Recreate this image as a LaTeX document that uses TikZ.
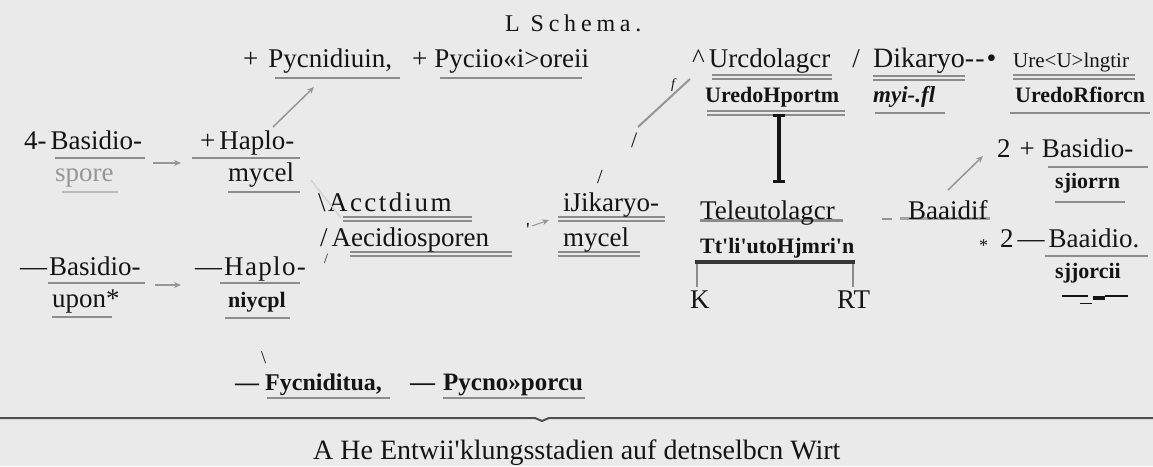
\documentclass[tikz,border=0pt]{standalone}
\usepackage{fontspec}
\setmainfont{Liberation Serif}
\usetikzlibrary{arrows.meta}
\definecolor{bg}{RGB}{234,234,234}
\definecolor{ink}{RGB}{20,20,20}
\definecolor{ulc}{RGB}{140,140,140}
\definecolor{arrc}{RGB}{150,150,150}
\definecolor{faint}{RGB}{150,150,150}
\newcommand\fsz[1]{\fontsize{#1}{#1}\selectfont}
\newcommand\q{\textquotesingle}
\tikzset{
  txt/.style={anchor=base west, inner sep=0pt, text=ink, font=\fsz{27}},
  bd/.style={txt, font=\fsz{22}\bfseries},
  ul/.style={draw=ulc, line width=2pt},
  uld/.style={draw=ulc, line width=1.3pt},
  garr/.style={draw=arrc, line width=1.5pt, -{Stealth[length=7pt,width=6pt]}},
  gline/.style={draw=arrc, line width=1.5pt},
}
\begin{document}
\begin{tikzpicture}[x=1pt,y=-1pt]
\fill[bg] (0,0) rectangle (1153,466);
\useasboundingbox (0,0) rectangle (1153,466);

% underlines (behind the texts)
\draw[ul] (275,78) -- (400,78);
\draw[ul] (440,78) -- (582,78);
\draw[uld] (712,75) -- (832,75); \draw[uld] (712,79) -- (832,79);
\draw[ul] (873,76) -- (965,76); \draw[uld] (873,80) -- (965,80);
\draw[uld] (1013,75) -- (1135,75); \draw[uld] (1013,79) -- (1135,79);
\draw[uld] (707,111) -- (845,111); \draw[uld] (707,115) -- (845,115);
\draw[ul] (875,113) -- (945,113);
\draw[ul] (1010,113) -- (1150,113);
\draw[ul] (55,158) -- (145,158);
\draw[ul, draw=ulc!60] (62,192) -- (118,192);
\draw[ul] (192,158) -- (300,158);
\draw[ul] (228,192) -- (300,192);
\draw[uld] (343,217) -- (472,217); \draw[uld] (343,221) -- (472,221);
\draw[uld] (350,252) -- (512,252); \draw[uld] (350,256) -- (512,256);
\draw[uld] (558,217) -- (665,217); \draw[uld] (558,221) -- (665,221);
\draw[uld] (558,252) -- (640,252); \draw[uld] (558,256) -- (640,256);
\draw[ul, line width=3pt] (700,220) -- (843,220);
\draw[ul, line width=3pt, draw=ulc!80] (900,218) -- (990,218);
\draw[ul] (1048,167) -- (1148,167);
\draw[ul] (1055,202) -- (1125,202);
\draw[ul] (1045,256) -- (1148,256);
\draw[ul] (48,283) -- (145,283);
\draw[ul] (52,317) -- (112,317);
\draw[ul] (220,283) -- (300,283);
\draw[ul] (225,318) -- (290,318);
\draw[ul] (267,398) -- (390,398);
\draw[ul] (443,398) -- (585,398);

% title
\node[txt, font=\fsz{24}\addfontfeature{LetterSpace=20}] (title) at (505,31) {L Schema.};

% top row
\node[txt] (pyc1) at (243,67) {+\hspace{10pt}Pycnidiuin,};
\node[txt] (pyc2) at (412,67) {+\hspace{7pt}Pyciio«i>oreii};
\node[txt] (ure1) at (692,67) {\textasciicircum\hspace{4pt}Urcdolagcr\hspace{22pt}/};
\node[txt, font=\fsz{28}] (dik1) at (873,67) {Dikaryo-\hspace{1pt}-\hspace{2pt}•};
\node[txt, font=\fsz{21}] (ure2) at (1013,67) {Ure<U>lngtir};
\node[bd] (ure3) at (705,102) {UredoHportm};
\node[bd, font=\fsz{23}\bfseries\itshape] (myi) at (873,102) {myi-.fl};
\node[bd] (ure4) at (1015,102) {UredoRfiorcn};
\node[txt, font=\fsz{14}\itshape] (fmark) at (671,88) {f};

% left column
\node[txt] (bas1) at (24,149) {4-\hspace{4pt}Basidio-};
\node[txt, text=faint] (spore) at (55,181) {spore};
\node[txt] (hap1) at (200,149) {+\hspace{4pt}Haplo-};
\node[txt] (myc1) at (228,181) {mycel};
\node[txt] (bas2) at (20,275) {—\hspace{2pt}Basidio-};
\node[txt] (upon) at (52,307) {upon*};
\node[txt, font=\fsz{27}\addfontfeature{LetterSpace=5}] (hap2) at (195,275) {—\hspace{2pt}Haplo-};
\node[bd] (niy) at (228,307) {niycpl};

% middle
\node[txt, font=\fsz{27}\addfontfeature{LetterSpace=9}] (acc) at (318,211) {\textbackslash Acctdium};
\node[txt] (aec) at (320,246) {/\hspace{4pt}Aecidiosporen};
\node[txt, font=\fsz{14}] (sl1) at (324,263) {/};
\node[txt, font=\fsz{20}] (tick) at (526,236) {\q};
\node[txt] (dik2) at (563,211) {iJikaryo-};
\node[txt] (myc2) at (563,246) {mycel};
\node[txt, font=\fsz{20}] (sl2) at (597,183) {/};
\node[txt, font=\fsz{22}] (sl3) at (631,147) {/};

% teleuto
\node[txt] (tel) at (700,219) {Teleutolagcr};
\node[bd] (tel2) at (700,253) {Tt\q li\q utoHjmri\q n};
\node[txt] (kk) at (690,308) {K};
\node[txt] (rt) at (837,308) {RT};
\node[txt] (baai) at (908,219) {Baaidif};

% right column
\node[txt] (bas3) at (997,157) {2\hspace{9pt}+\hspace{7pt}Basidio-};
\node[bd] (sji) at (1055,188) {sjiorrn};
\node[txt, font=\fsz{18}] (star) at (979,251) {*};
\node[txt] (bas4) at (1000,247) {2\hspace{4pt}—\hspace{4pt}Baaidio.};
\node[bd] (sjj) at (1055,278) {sjjorcii};

% bottom
\node[txt, font=\fsz{18}] (bsl) at (261,363) {\textbackslash};
\node[bd, font=\fsz{24}\bfseries] (fyc) at (235,390) {—\hspace{6pt}Fycniditua,};
\node[bd, font=\fsz{25}\bfseries] (pycs) at (410,390) {—\hspace{8pt}Pycno»porcu};
\node[txt, font=\fsz{28}] (cap) at (313,459) {A He Entwii\q klungsstadien auf detnselbcn Wirt};

% connectors
\coordinate (a1s) at (153,163); \coordinate (a1e) at (181,163);
\coordinate (a2s) at (155,285); \coordinate (a2e) at (181,285);
\coordinate (a3s) at (273,127); \coordinate (a3e) at (314,87);
\coordinate (a4s) at (311,180); \coordinate (a4e) at (341,218);
\coordinate (a5s) at (532,226); \coordinate (a5e) at (549,220);
\coordinate (a6s) at (638,127); \coordinate (a6e) at (690,79);
\coordinate (a7s) at (948,190); \coordinate (a7e) at (983,156);
\coordinate (a8s) at (882,219); \coordinate (a8e) at (892,219);
\draw[garr] (a1s) -- (a1e);
\draw[garr] (a2s) -- (a2e);
\draw[garr] (a3s) -- (a3e);
\draw[gline, draw=arrc!45, line width=1.2pt] (a4s) -- (a4e);
\draw[garr, line width=1pt] (a5s) -- (a5e);
\draw[gline, line width=2pt] (a6s) -- (a6e);
\draw[garr] (a7s) -- (a7e);
\draw[gline, line width=2pt] (a8s) -- (a8e);

% I-beam between Uredolager and Teleutolager
\coordinate (ib1) at (779,114); \coordinate (ib2) at (779,182);
\draw[ink, line width=4pt] (ib1) -- (ib2);
\draw[ink, line width=3pt] (773,115) -- (785,115);
\draw[ink, line width=3pt] (773,181) -- (785,181);

% bracket under teleutosporen
\coordinate (brl) at (697,287); \coordinate (brr) at (853,287);
\draw[draw=ulc, line width=2pt] (brl) -- (697,262);
\draw[draw=ulc, line width=2pt] (brr) -- (853,262);
\draw[ink!85, line width=4pt] (695,262) -- (855,262);

% small marks under sjjorcii
\draw[ink, line width=1.3pt] (1062,296) -- (1088,296);
\draw[ink, line width=1pt] (1080,303) -- (1092,303);
\draw[ink, line width=4pt] (1093,298) -- (1105,298);
\draw[ink, line width=1.3pt] (1105,296) -- (1128,296);

% long rule
\draw[draw=ink!75, line width=2pt] (0,418) -- (535,418) -- (542,421) -- (549,418) -- (1153,418);
\end{tikzpicture}
\end{document}
